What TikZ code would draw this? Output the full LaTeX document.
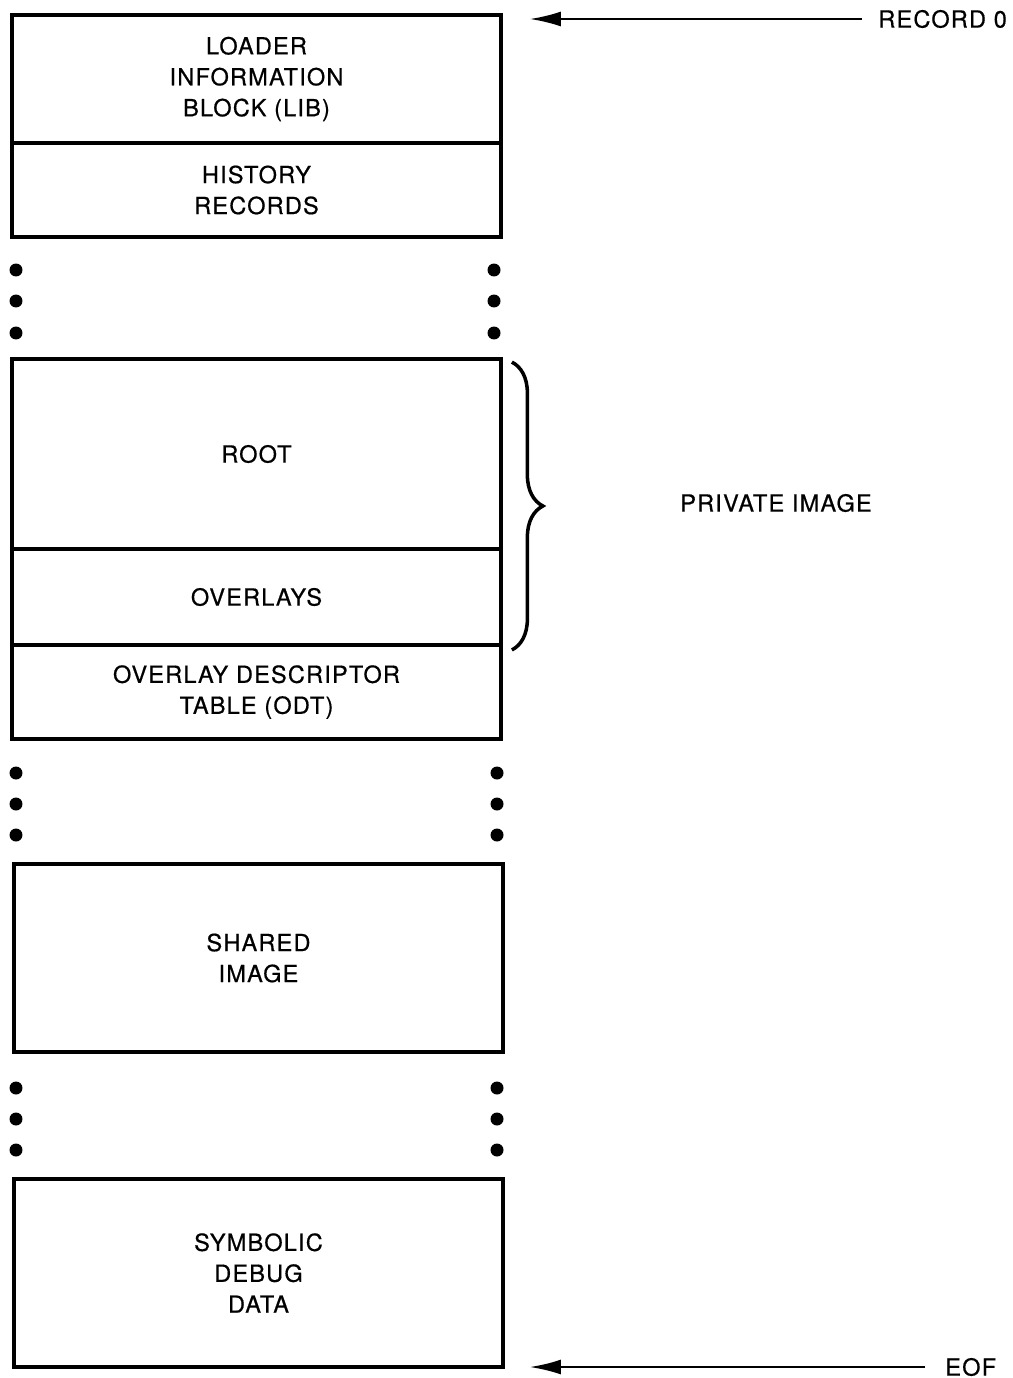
\documentclass[tikz,border=0pt]{standalone}
\usepackage{fontspec}
\setmainfont{TeX Gyre Heros}[LetterSpace=5,FakeBold=0.6]
\usetikzlibrary{arrows.meta,decorations.pathreplacing}
\newcommand{\Seg}{\fontsize{13.4}{17.6}\selectfont}

\begin{document}
\begin{tikzpicture}[x=0.02cm,y=-0.02cm,
  seg/.style={draw,line width=2.2pt,minimum width=9.78cm,inner sep=0pt,align=center,font=\Seg},
  lbl/.style={inner sep=0pt,font=\Seg},
  arr/.style={-{Latex[length=0.62cm,width=0.3cm]},line width=1.3pt},
  brc/.style={decorate,decoration={brace,amplitude=0.62cm},line width=2pt}]
\useasboundingbox (0,0) rectangle (1012,1378);

\node[seg,minimum height=2.56cm] (lib) at (256.5,79) {LOADER\\INFORMATION\\BLOCK (LIB)};
\node[seg,minimum height=1.88cm] (hist) at (256.5,190) {HISTORY\\RECORDS};
\node[seg,minimum height=3.8cm] (root) at (256.5,454) {ROOT};
\node[seg,minimum height=1.92cm] (ovl) at (256.5,597) {OVERLAYS};
\node[seg,minimum height=1.88cm] (odt) at (256.5,692) {OVERLAY DESCRIPTOR\\TABLE (ODT)};
\node[seg,minimum height=3.76cm] (shared) at (258.5,958) {SHARED\\IMAGE};
\node[seg,minimum height=3.76cm] (symb) at (258.5,1273) {SYMBOLIC\\DEBUG\\DATA};

\foreach \y in {270,301,333} {\fill (16,\y) circle[radius=0.13cm]; \fill (494,\y) circle[radius=0.13cm];}
\foreach \y in {773,804,835,1088,1119,1150} {\fill (16,\y) circle[radius=0.13cm]; \fill (497,\y) circle[radius=0.13cm];}

\node[lbl,anchor=west] (rec) at (878,19) {RECORD 0};
\node[lbl,anchor=west] (eof) at (945,1367) {EOF};
\node[lbl] (priv) at (776,503) {PRIVATE IMAGE};

\path[arr,shorten <=0.32cm,shorten >=0.54cm] (rec.west) edge (rec.west -| lib.east);
\path[arr,shorten <=0.4cm,shorten >=0.5cm] (eof.west) edge (eof.west -| symb.east);
\draw[brc] ([shift={(9,5)}]root.north east) -- ([shift={(9,3)}]ovl.south east);
\end{tikzpicture}
\end{document}
